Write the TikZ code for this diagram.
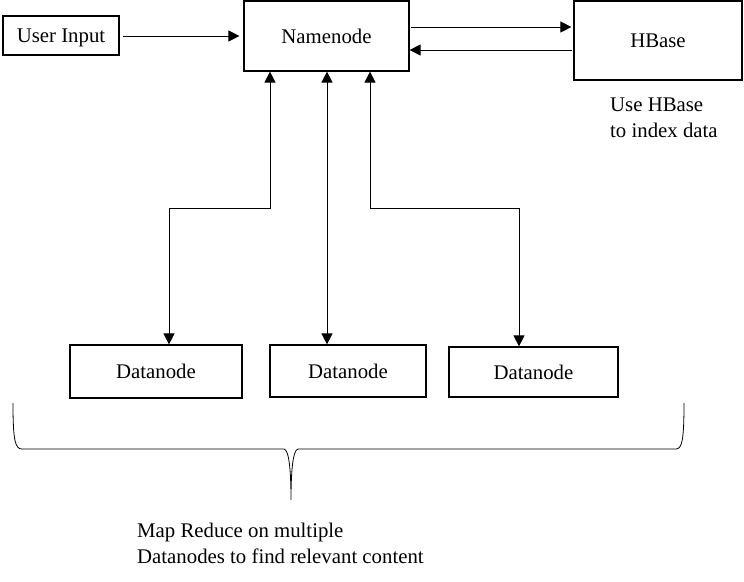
\documentclass[tikz,border=0pt]{standalone}
\usepackage{fontspec}
\setmainfont{Liberation Serif}
\usetikzlibrary{arrows.meta}
\begin{document}
\begin{tikzpicture}[x=1pt,y=-1pt,
  every node/.style={font=\fontsize{20.8}{26}\selectfont},
  box/.style={draw,line width=1.2pt,inner sep=0pt,anchor=center,text height=18.5pt,text depth=4.5pt},
  conn/.style={line width=1pt,-{Triangle[length=11pt,width=11pt]}},
  dconn/.style={line width=1pt,{Triangle[length=11pt,width=11pt]}-{Triangle[length=11pt,width=11pt]}},
  note/.style={align=left,anchor=west,inner sep=0pt}]
\useasboundingbox (0,0) rectangle (744,581);
\node[box,minimum width=116pt,minimum height=39pt] (ui) at (61,35.5) {User Input};
\node[box,minimum width=165pt,minimum height=70pt] (nn) at (326.5,36) {Namenode};
\node[box,minimum width=168pt,minimum height=79pt] (hb) at (658,40.5) {HBase};
\node[box,minimum width=172pt,minimum height=53pt] (d1) at (156,371.5) {Datanode};
\node[box,minimum width=156pt,minimum height=52pt] (d2) at (348,371) {Datanode};
\node[box,minimum width=169pt,minimum height=50pt] (d3) at (533.5,372) {Datanode};
\node[note] (hbnote) at (610,118) {Use HBase\\to index data};
\node[note] (mrnote) at (137,543) {Map Reduce on multiple\\Datanodes to find relevant content};
% horizontal connectors
\coordinate (y36) at (0,36);
\coordinate (y27) at (0,27);
\coordinate (y50) at (0,50);
\draw[conn,shorten <=3pt,shorten >=4pt] (ui.east |- y36) -- (nn.west |- y36);
\draw[conn,shorten <=1.5pt,shorten >=2pt] (nn.east |- y27) -- (hb.west |- y27);
\draw[conn,shorten <=1pt] (hb.west |- y50) -- (nn.east |- y50);
% vertical connectors
\coordinate (c1) at (270,208);
\coordinate (c1b) at (169,208);
\coordinate (c2) at (327,208);
\coordinate (c3) at (370,208);
\coordinate (c3b) at (519,208);
\draw[dconn] (nn.south -| c1) -- (c1) -- (c1b) -- (d1.north -| c1b);
\draw[dconn] (nn.south -| c2) -- (d2.north -| c2);
\draw[dconn] (nn.south -| c3) -- (c3) -- (c3b) -- (d3.north -| c3b);
% brace
\coordinate (bl) at (13,403);
\coordinate (br) at (684,403);
\coordinate (bt) at (291,500);
\draw[line width=0.8pt] (bl) .. controls (13,440) and (15,449) .. (22,449) -- (284,449)
  .. controls (289,450) and (291,470) .. (bt)
  .. controls (291,470) and (293,450) .. (298,449) -- (676,449)
  .. controls (682,449) and (684,440) .. (br);
\end{tikzpicture}
\end{document}
